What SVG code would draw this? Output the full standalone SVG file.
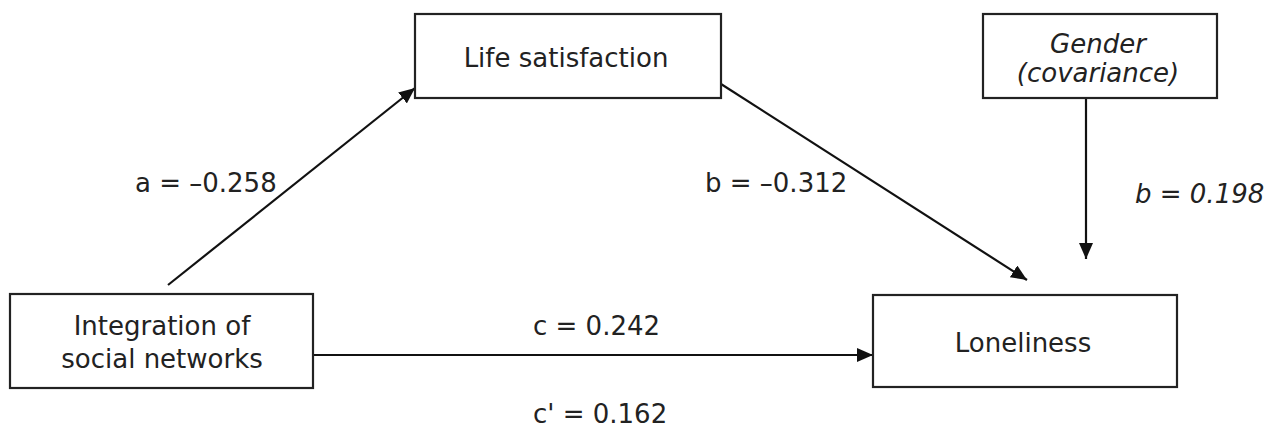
<svg xmlns="http://www.w3.org/2000/svg" width="1272" height="428" viewBox="0 0 1272 428">
<style>
.box{fill:#fff;stroke:#222;stroke-width:2.2}
.t{font-family:"DejaVu Sans","Liberation Sans",sans-serif;font-size:26px;fill:#222;text-anchor:middle}
.l{font-family:"DejaVu Sans","Liberation Sans",sans-serif;font-size:26px;fill:#222}
.i{font-style:italic}
.c{stroke:#111;stroke-width:2.2;fill:none;marker-end:url(#ah)}
</style>
<defs>
<marker id="ah" viewBox="0 0 16 14" refX="16" refY="7" markerWidth="16" markerHeight="14" markerUnits="userSpaceOnUse" orient="auto">
<path d="M0,0 L16,7 L0,14 z" fill="#111"/>
</marker>
</defs>
<rect width="1272" height="428" fill="#fff"/>
<g id="connectors">
<line class="c" x1="168" y1="285" x2="415" y2="88"/>
<line class="c" x1="721" y1="84" x2="1027" y2="280"/>
<line class="c" x1="1086" y1="98" x2="1086" y2="259"/>
<line class="c" x1="313" y1="355" x2="873" y2="355"/>
</g>
<g id="life-satisfaction">
<rect class="box" x="415" y="14" width="306" height="84"/>
<text class="t" x="566" y="67">Life satisfaction</text>
</g>
<g id="gender">
<rect class="box" x="983" y="14" width="234" height="84"/>
<text class="t i" x="1098" y="53">Gender</text>
<text class="t i" x="1098" y="82">(covariance)</text>
</g>
<g id="integration">
<rect class="box" x="10" y="294" width="303" height="94"/>
<text class="t" x="162" y="335">Integration of</text>
<text class="t" x="162" y="368">social networks</text>
</g>
<g id="loneliness">
<rect class="box" x="873" y="295" width="304" height="92"/>
<text class="t" x="1023" y="352">Loneliness</text>
</g>
<g id="labels">
<text class="l" x="135" y="192">a = –0.258</text>
<text class="l" x="705" y="192">b = –0.312</text>
<text class="l i" x="1135" y="203">b = 0.198</text>
<text class="l" x="533" y="335">c = 0.242</text>
<text class="l" x="533" y="423">c' = 0.162</text>
</g>
</svg>
